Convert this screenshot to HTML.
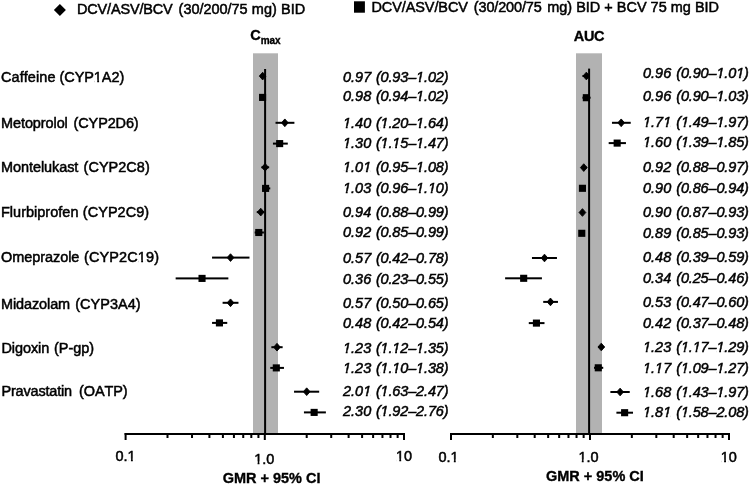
<!DOCTYPE html>
<html><head><meta charset="utf-8"><style>
html,body{margin:0;padding:0;background:#fff;}
svg{display:block;will-change:transform;}
text{font-kerning:none;font-family:"Liberation Sans",sans-serif;font-size:14.5px;fill:#000;stroke:#000;stroke-width:0.5px;}
text.i{font-style:italic;}
text.p{letter-spacing:-0.14px;}
text.b{font-weight:bold;stroke-width:0.35px;}
</style></head><body>
<svg width="750" height="485" viewBox="0 0 750 485">
<rect x="253" y="53.3" width="25" height="380.7" fill="#b2b2b2"/>
<rect x="576" y="53.3" width="26" height="380.7" fill="#b2b2b2"/>
<rect x="264.1" y="69" width="2" height="365" fill="#000"/>
<rect x="588.1" y="68.6" width="2" height="366" fill="#000"/>
<g fill="#000"><rect x="124.60" y="433" width="280.40" height="2"/><rect x="124.60" y="433" width="2" height="7"/><rect x="263.80" y="433" width="2" height="7"/><rect x="403.00" y="433" width="2" height="7"/><rect x="166.50" y="433" width="2" height="5"/><rect x="191.02" y="433" width="2" height="5"/><rect x="208.41" y="433" width="2" height="5"/><rect x="221.90" y="433" width="2" height="5"/><rect x="232.92" y="433" width="2" height="5"/><rect x="242.24" y="433" width="2" height="5"/><rect x="250.31" y="433" width="2" height="5"/><rect x="257.43" y="433" width="2" height="5"/><rect x="305.70" y="433" width="2" height="5"/><rect x="330.22" y="433" width="2" height="5"/><rect x="347.61" y="433" width="2" height="5"/><rect x="361.10" y="433" width="2" height="5"/><rect x="372.12" y="433" width="2" height="5"/><rect x="381.44" y="433" width="2" height="5"/><rect x="389.51" y="433" width="2" height="5"/><rect x="396.63" y="433" width="2" height="5"/><rect x="450.00" y="433" width="280.00" height="2"/><rect x="450.00" y="433" width="2" height="7"/><rect x="589.00" y="433" width="2" height="7"/><rect x="728.00" y="433" width="2" height="7"/><rect x="491.84" y="433" width="2" height="5"/><rect x="516.32" y="433" width="2" height="5"/><rect x="533.69" y="433" width="2" height="5"/><rect x="547.16" y="433" width="2" height="5"/><rect x="558.16" y="433" width="2" height="5"/><rect x="567.47" y="433" width="2" height="5"/><rect x="575.53" y="433" width="2" height="5"/><rect x="582.64" y="433" width="2" height="5"/><rect x="630.84" y="433" width="2" height="5"/><rect x="655.32" y="433" width="2" height="5"/><rect x="672.69" y="433" width="2" height="5"/><rect x="686.16" y="433" width="2" height="5"/><rect x="697.16" y="433" width="2" height="5"/><rect x="706.47" y="433" width="2" height="5"/><rect x="714.53" y="433" width="2" height="5"/><rect x="721.64" y="433" width="2" height="5"/></g>
<g fill="#000"><rect x="260.11" y="75.10" width="5.58" height="2"/><path d="M259.31 76.10L262.66 72.25L266.01 76.10L262.66 79.95Z" stroke="#000" stroke-width="0.9" stroke-linejoin="round"/><rect x="260.76" y="96.40" width="4.94" height="2"/><rect x="259.03" y="93.85" width="7.1" height="7.1"/><rect x="275.52" y="121.80" width="18.88" height="2"/><path d="M281.49 122.80L284.84 118.95L288.19 122.80L284.84 126.65Z" stroke="#000" stroke-width="0.9" stroke-linejoin="round"/><rect x="272.95" y="142.60" width="14.84" height="2"/><rect x="276.11" y="140.05" width="7.1" height="7.1"/><rect x="261.40" y="166.30" width="7.75" height="2"/><path d="M261.75 167.30L265.10 163.45L268.45 167.30L265.10 171.15Z" stroke="#000" stroke-width="0.9" stroke-linejoin="round"/><rect x="262.03" y="187.40" width="8.23" height="2"/><rect x="262.04" y="184.85" width="7.1" height="7.1"/><rect x="256.77" y="211.10" width="7.12" height="2"/><path d="M257.41 212.10L260.76 208.25L264.11 212.10L260.76 215.95Z" stroke="#000" stroke-width="0.9" stroke-linejoin="round"/><rect x="254.68" y="231.50" width="9.22" height="2"/><rect x="255.21" y="228.95" width="7.1" height="7.1"/><rect x="212.06" y="256.60" width="37.42" height="2"/><path d="M227.17 257.60L230.52 253.75L233.87 257.60L230.52 261.45Z" stroke="#000" stroke-width="0.9" stroke-linejoin="round"/><rect x="175.65" y="277.40" width="52.71" height="2"/><rect x="198.49" y="274.85" width="7.1" height="7.1"/><rect x="222.60" y="301.80" width="15.86" height="2"/><path d="M227.17 302.80L230.52 298.95L233.87 302.80L230.52 306.65Z" stroke="#000" stroke-width="0.9" stroke-linejoin="round"/><rect x="212.06" y="321.90" width="15.19" height="2"/><rect x="215.88" y="319.35" width="7.1" height="7.1"/><rect x="271.35" y="346.20" width="11.29" height="2"/><path d="M273.66 347.20L277.01 343.35L280.36 347.20L277.01 351.05Z" stroke="#000" stroke-width="0.9" stroke-linejoin="round"/><rect x="270.26" y="366.90" width="13.71" height="2"/><rect x="272.76" y="364.35" width="7.1" height="7.1"/><rect x="294.04" y="390.70" width="25.13" height="2"/><path d="M303.35 391.70L306.70 387.85L310.05 391.70L306.70 395.55Z" stroke="#000" stroke-width="0.9" stroke-linejoin="round"/><rect x="303.94" y="411.40" width="21.94" height="2"/><rect x="310.60" y="408.85" width="7.1" height="7.1"/><rect x="582.44" y="75.00" width="6.96" height="2"/><path d="M582.99 76.00L586.34 72.15L589.69 76.00L586.34 79.85Z" stroke="#000" stroke-width="0.9" stroke-linejoin="round"/><rect x="582.44" y="96.70" width="8.14" height="2"/><rect x="582.79" y="94.15" width="7.1" height="7.1"/><rect x="611.97" y="121.80" width="18.76" height="2"/><path d="M617.84 122.80L621.19 118.95L624.54 122.80L621.19 126.65Z" stroke="#000" stroke-width="0.9" stroke-linejoin="round"/><rect x="608.68" y="142.10" width="17.26" height="2"/><rect x="613.62" y="139.55" width="7.1" height="7.1"/><rect x="581.08" y="166.60" width="5.88" height="2"/><path d="M580.42 167.60L583.77 163.75L587.12 167.60L583.77 171.45Z" stroke="#000" stroke-width="0.9" stroke-linejoin="round"/><rect x="579.70" y="187.30" width="5.37" height="2"/><rect x="578.89" y="184.75" width="7.1" height="7.1"/><rect x="580.39" y="211.50" width="4.03" height="2"/><path d="M579.09 212.50L582.44 208.65L585.79 212.50L582.44 216.35Z" stroke="#000" stroke-width="0.9" stroke-linejoin="round"/><rect x="578.99" y="232.30" width="5.43" height="2"/><rect x="578.22" y="229.75" width="7.1" height="7.1"/><rect x="531.96" y="257.00" width="24.99" height="2"/><path d="M541.14 258.00L544.49 254.15L547.84 258.00L544.49 261.85Z" stroke="#000" stroke-width="0.9" stroke-linejoin="round"/><rect x="505.11" y="277.30" width="36.81" height="2"/><rect x="520.13" y="274.75" width="7.1" height="7.1"/><rect x="543.22" y="300.90" width="14.74" height="2"/><path d="M547.12 301.90L550.47 298.05L553.82 301.90L550.47 305.75Z" stroke="#000" stroke-width="0.9" stroke-linejoin="round"/><rect x="528.78" y="322.10" width="15.71" height="2"/><rect x="532.88" y="319.55" width="7.1" height="7.1"/><rect x="598.28" y="346.00" width="5.89" height="2"/><path d="M597.95 347.00L601.30 343.15L604.65 347.00L601.30 350.85Z" stroke="#000" stroke-width="0.9" stroke-linejoin="round"/><rect x="594.00" y="366.80" width="9.23" height="2"/><rect x="594.73" y="364.25" width="7.1" height="7.1"/><rect x="610.39" y="391.00" width="19.34" height="2"/><path d="M616.77 392.00L620.12 388.15L623.47 392.00L620.12 395.85Z" stroke="#000" stroke-width="0.9" stroke-linejoin="round"/><rect x="616.41" y="411.70" width="16.60" height="2"/><rect x="621.07" y="409.15" width="7.1" height="7.1"/></g>
<g><text class="n" x="1.00" y="81.9" letter-spacing="0.08" transform="matrix(1 0 0 1.045 0 -3.685)">Caffeine</text><text x="59.56" y="81.9" letter-spacing="-0.077" transform="matrix(1 0 0 1.045 0 -3.685)">(CYP1A2)</text><text class="n" x="1.00" y="127.9" letter-spacing="-0.087" transform="matrix(1 0 0 1.045 0 -5.755)">Metoprolol</text><text x="73.61" y="127.9" letter-spacing="-0.134" transform="matrix(1 0 0 1.045 0 -5.755)">(CYP2D6)</text><text class="n" x="1.00" y="172.1" letter-spacing="-0.07" transform="matrix(1 0 0 1.045 0 -7.744)">Montelukast</text><text x="83.58" y="172.1" letter-spacing="0.023" transform="matrix(1 0 0 1.045 0 -7.744)">(CYP2C8)</text><text class="n" x="1.00" y="217.3" letter-spacing="0.016" transform="matrix(1 0 0 1.045 0 -9.778)">Flurbiprofen</text><text x="82.84" y="217.3" letter-spacing="0.037" transform="matrix(1 0 0 1.045 0 -9.778)">(CYP2C9)</text><text class="n" x="1.00" y="262.1" letter-spacing="-0.053" transform="matrix(1 0 0 1.045 0 -11.794)">Omeprazole</text><text x="83.99" y="262.1" letter-spacing="0.118" transform="matrix(1 0 0 1.045 0 -11.794)">(CYP2C19)</text><text class="n" x="1.00" y="309.1" letter-spacing="-0.107" transform="matrix(1 0 0 1.045 0 -13.909)">Midazolam</text><text x="75.24" y="309.1" letter-spacing="0.023" transform="matrix(1 0 0 1.045 0 -13.909)">(CYP3A4)</text><text class="n" x="1.40" y="353.3" letter-spacing="-0.07" transform="matrix(1 0 0 1.045 0 -15.898)">Digoxin</text><text x="54.03" y="353.3" letter-spacing="-0.02" transform="matrix(1 0 0 1.045 0 -15.898)">(P-gp)</text><text class="n" x="1.50" y="396.4" letter-spacing="-0.18" transform="matrix(1 0 0 1.045 0 -17.838)">Pravastatin</text><text x="79.03" y="396.4" letter-spacing="-0.08" transform="matrix(1 0 0 1.045 0 -17.838)">(OATP)</text><text class="i" x="343.0" y="81.7" transform="matrix(1 0 0 1.045 0 -3.676)">0.97</text><text class="i p" x="375.9" y="81.7" transform="matrix(1 0 0 1.045 0 -3.676)">(0.93–1.02)</text><text class="i" x="343.0" y="101.5" transform="matrix(1 0 0 1.045 0 -4.567)">0.98</text><text class="i p" x="375.9" y="101.5" transform="matrix(1 0 0 1.045 0 -4.567)">(0.94–1.02)</text><text class="i" x="343.0" y="128.3" transform="matrix(1 0 0 1.045 0 -5.773)">1.40</text><text class="i p" x="375.9" y="128.3" transform="matrix(1 0 0 1.045 0 -5.773)">(1.20–1.64)</text><text class="i" x="343.0" y="148.4" transform="matrix(1 0 0 1.045 0 -6.678)">1.30</text><text class="i p" x="375.9" y="148.4" transform="matrix(1 0 0 1.045 0 -6.678)">(1.15–1.47)</text><text class="i" x="343.0" y="172.5" transform="matrix(1 0 0 1.045 0 -7.762)">1.01</text><text class="i p" x="375.9" y="172.5" transform="matrix(1 0 0 1.045 0 -7.762)">(0.95–1.08)</text><text class="i" x="343.0" y="193.4" transform="matrix(1 0 0 1.045 0 -8.703)">1.03</text><text class="i p" x="375.9" y="193.4" transform="matrix(1 0 0 1.045 0 -8.703)">(0.96–1.10)</text><text class="i" x="343.0" y="217.3" transform="matrix(1 0 0 1.045 0 -9.778)">0.94</text><text class="i p" x="375.9" y="217.3" transform="matrix(1 0 0 1.045 0 -9.778)">(0.88–0.99)</text><text class="i" x="343.0" y="237.5" transform="matrix(1 0 0 1.045 0 -10.687)">0.92</text><text class="i p" x="375.9" y="237.5" transform="matrix(1 0 0 1.045 0 -10.687)">(0.85–0.99)</text><text class="i" x="343.0" y="263.1" transform="matrix(1 0 0 1.045 0 -11.839)">0.57</text><text class="i p" x="375.9" y="263.1" transform="matrix(1 0 0 1.045 0 -11.839)">(0.42–0.78)</text><text class="i" x="343.0" y="283.8" transform="matrix(1 0 0 1.045 0 -12.771)">0.36</text><text class="i p" x="375.9" y="283.8" transform="matrix(1 0 0 1.045 0 -12.771)">(0.23–0.55)</text><text class="i" x="343.0" y="308.1" transform="matrix(1 0 0 1.045 0 -13.864)">0.57</text><text class="i p" x="375.9" y="308.1" transform="matrix(1 0 0 1.045 0 -13.864)">(0.50–0.65)</text><text class="i" x="343.0" y="328.4" transform="matrix(1 0 0 1.045 0 -14.778)">0.48</text><text class="i p" x="375.9" y="328.4" transform="matrix(1 0 0 1.045 0 -14.778)">(0.42–0.54)</text><text class="i" x="343.0" y="352.7" transform="matrix(1 0 0 1.045 0 -15.871)">1.23</text><text class="i p" x="375.9" y="352.7" transform="matrix(1 0 0 1.045 0 -15.871)">(1.12–1.35)</text><text class="i" x="343.0" y="372.9" transform="matrix(1 0 0 1.045 0 -16.780)">1.23</text><text class="i p" x="375.9" y="372.9" transform="matrix(1 0 0 1.045 0 -16.780)">(1.10–1.38)</text><text class="i" x="343.0" y="395.8" transform="matrix(1 0 0 1.045 0 -17.811)">2.01</text><text class="i p" x="375.9" y="395.8" transform="matrix(1 0 0 1.045 0 -17.811)">(1.63–2.47)</text><text class="i" x="343.0" y="416.3" transform="matrix(1 0 0 1.045 0 -18.733)">2.30</text><text class="i p" x="375.9" y="416.3" transform="matrix(1 0 0 1.045 0 -18.733)">(1.92–2.76)</text><text class="i" x="643.0" y="78.5" transform="matrix(1 0 0 1.045 0 -3.532)">0.96</text><text class="i p" x="676.2" y="78.5" transform="matrix(1 0 0 1.045 0 -3.532)">(0.90–1.01)</text><text class="i" x="643.0" y="101.5" transform="matrix(1 0 0 1.045 0 -4.567)">0.96</text><text class="i p" x="676.2" y="101.5" transform="matrix(1 0 0 1.045 0 -4.567)">(0.90–1.03)</text><text class="i" x="643.0" y="126.9" transform="matrix(1 0 0 1.045 0 -5.710)">1.71</text><text class="i p" x="676.2" y="126.9" transform="matrix(1 0 0 1.045 0 -5.710)">(1.49–1.97)</text><text class="i" x="643.0" y="147.5" transform="matrix(1 0 0 1.045 0 -6.637)">1.60</text><text class="i p" x="676.2" y="147.5" transform="matrix(1 0 0 1.045 0 -6.637)">(1.39–1.85)</text><text class="i" x="643.0" y="171.9" transform="matrix(1 0 0 1.045 0 -7.735)">0.92</text><text class="i p" x="676.2" y="171.9" transform="matrix(1 0 0 1.045 0 -7.735)">(0.88–0.97)</text><text class="i" x="643.0" y="192.8" transform="matrix(1 0 0 1.045 0 -8.676)">0.90</text><text class="i p" x="676.2" y="192.8" transform="matrix(1 0 0 1.045 0 -8.676)">(0.86–0.94)</text><text class="i" x="643.0" y="216.9" transform="matrix(1 0 0 1.045 0 -9.760)">0.90</text><text class="i p" x="676.2" y="216.9" transform="matrix(1 0 0 1.045 0 -9.760)">(0.87–0.93)</text><text class="i" x="643.0" y="237.8" transform="matrix(1 0 0 1.045 0 -10.701)">0.89</text><text class="i p" x="676.2" y="237.8" transform="matrix(1 0 0 1.045 0 -10.701)">(0.85–0.93)</text><text class="i" x="643.0" y="261.9" transform="matrix(1 0 0 1.045 0 -11.785)">0.48</text><text class="i p" x="676.2" y="261.9" transform="matrix(1 0 0 1.045 0 -11.785)">(0.39–0.59)</text><text class="i" x="643.0" y="282.8" transform="matrix(1 0 0 1.045 0 -12.726)">0.34</text><text class="i p" x="676.2" y="282.8" transform="matrix(1 0 0 1.045 0 -12.726)">(0.25–0.46)</text><text class="i" x="643.0" y="306.9" transform="matrix(1 0 0 1.045 0 -13.810)">0.53</text><text class="i p" x="676.2" y="306.9" transform="matrix(1 0 0 1.045 0 -13.810)">(0.47–0.60)</text><text class="i" x="643.0" y="327.8" transform="matrix(1 0 0 1.045 0 -14.751)">0.42</text><text class="i p" x="676.2" y="327.8" transform="matrix(1 0 0 1.045 0 -14.751)">(0.37–0.48)</text><text class="i" x="643.0" y="351.9" transform="matrix(1 0 0 1.045 0 -15.835)">1.23</text><text class="i p" x="676.2" y="351.9" transform="matrix(1 0 0 1.045 0 -15.835)">(1.17–1.29)</text><text class="i" x="643.0" y="372.8" transform="matrix(1 0 0 1.045 0 -16.776)">1.17</text><text class="i p" x="676.2" y="372.8" transform="matrix(1 0 0 1.045 0 -16.776)">(1.09–1.27)</text><text class="i" x="643.0" y="396.7" transform="matrix(1 0 0 1.045 0 -17.851)">1.68</text><text class="i p" x="676.2" y="396.7" transform="matrix(1 0 0 1.045 0 -17.851)">(1.43–1.97)</text><text class="i" x="643.0" y="416.7" transform="matrix(1 0 0 1.045 0 -18.751)">1.81</text><text class="i p" x="676.2" y="416.7" transform="matrix(1 0 0 1.045 0 -18.751)">(1.58–2.08)</text><text x="125.6" y="460.9" text-anchor="middle" transform="matrix(1 0 0 1.045 0 -20.740)">0.1</text><text x="264.3" y="463.7" text-anchor="middle" transform="matrix(1 0 0 1.045 0 -20.866)">1.0</text><text x="404" y="460.9" text-anchor="middle" transform="matrix(1 0 0 1.045 0 -20.740)">10</text><text x="448.5" y="461.7" text-anchor="middle" transform="matrix(1 0 0 1.045 0 -20.776)">0.1</text><text x="588.5" y="461.7" text-anchor="middle" transform="matrix(1 0 0 1.045 0 -20.776)">1.0</text><text x="728.8" y="461.7" text-anchor="middle" transform="matrix(1 0 0 1.045 0 -20.776)">10</text><text class="b" x="271.6" y="483.1" text-anchor="middle" transform="matrix(1 0 0 1.045 0 -21.739)">GMR + 95% CI</text><text class="b" x="594.9" y="481.5" text-anchor="middle" transform="matrix(1 0 0 1.045 0 -21.667)">GMR + 95% CI</text><text class="b" x="250.2" y="40.3" transform="matrix(1 0 0 1.045 0 -1.813)">C<tspan font-size="10" dy="3.3">max</tspan></text><text class="b" x="573.8" y="41.4" letter-spacing="-0.35" transform="matrix(1 0 0 1.045 0 -1.863)">AUC</text><text x="77" y="14.5" letter-spacing="-0.16" transform="matrix(1 0 0 1.045 0 -0.652)">DCV/ASV/BCV</text><text x="178.63" y="14.5" letter-spacing="-0.04" word-spacing="0.4" transform="matrix(1 0 0 1.045 0 -0.652)">(30/200/75 mg) BID</text><text x="371.4" y="12.4" letter-spacing="-0.08" transform="matrix(1 0 0 1.045 0 -0.558)">DCV/ASV/BCV</text><text x="473.83" y="12.4" letter-spacing="-0.144" transform="matrix(1 0 0 1.045 0 -0.558)">(30/200/75</text><text x="547.20" y="12.4" transform="matrix(1 0 0 1.045 0 -0.558)">mg) BID + BCV 75 mg BID</text></g>
<path fill="#000" d="M53.91 10.00L59.90 4.10L65.89 10.00L59.90 15.89Z" stroke="#000" stroke-width="0.01" stroke-linejoin="round"/>
<rect x="354" y="1.3" width="10.9" height="11.4" fill="#000"/>
<g fill="#fff"><polygon points="94.35,83.50 97.19,83.50 97.19,79.57 94.35,79.57"/><polygon points="99.07,83.50 101.90,83.50 101.90,79.57 99.07,79.57"/><polygon points="138.32,263.70 141.16,263.70 141.16,259.77 138.32,259.77"/><polygon points="143.04,263.70 145.87,263.70 145.87,259.77 143.04,259.77"/><polygon points="415.90,83.30 418.74,83.30 418.95,79.37 416.11,79.37"/><polygon points="420.63,83.30 423.45,83.30 423.66,79.37 420.84,79.37"/><polygon points="415.90,103.10 418.74,103.10 418.95,99.17 416.11,99.17"/><polygon points="420.63,103.10 423.45,103.10 423.66,99.17 420.84,99.17"/><polygon points="342.78,129.90 345.62,129.90 345.83,125.97 342.99,125.97"/><polygon points="347.50,129.90 350.33,129.90 350.54,125.97 347.71,125.97"/><polygon points="380.35,129.90 383.19,129.90 383.40,125.97 380.56,125.97"/><polygon points="385.08,129.90 387.90,129.90 388.11,125.97 385.29,125.97"/><polygon points="415.90,129.90 418.74,129.90 418.95,125.97 416.11,125.97"/><polygon points="420.63,129.90 423.45,129.90 423.66,125.97 420.84,125.97"/><polygon points="342.78,150.00 345.62,150.00 345.83,146.07 342.99,146.07"/><polygon points="347.50,150.00 350.33,150.00 350.54,146.07 347.71,146.07"/><polygon points="380.35,150.00 383.19,150.00 383.40,146.07 380.56,146.07"/><polygon points="385.08,150.00 387.90,150.00 388.11,146.07 385.29,146.07"/><polygon points="392.14,150.00 394.99,150.00 395.20,146.07 392.36,146.07"/><polygon points="396.87,150.00 399.70,150.00 399.91,146.07 397.08,146.07"/><polygon points="415.90,150.00 418.74,150.00 418.95,146.07 416.11,146.07"/><polygon points="420.63,150.00 423.45,150.00 423.66,146.07 420.84,146.07"/><polygon points="342.78,174.10 345.62,174.10 345.83,170.17 342.99,170.17"/><polygon points="347.50,174.10 350.33,174.10 350.54,170.17 347.71,170.17"/><polygon points="362.90,174.10 365.74,174.10 365.95,170.17 363.11,170.17"/><polygon points="367.62,174.10 370.45,174.10 370.66,170.17 367.83,170.17"/><polygon points="415.90,174.10 418.74,174.10 418.95,170.17 416.11,170.17"/><polygon points="420.63,174.10 423.45,174.10 423.66,170.17 420.84,170.17"/><polygon points="342.78,195.00 345.62,195.00 345.83,191.07 342.99,191.07"/><polygon points="347.50,195.00 350.33,195.00 350.54,191.07 347.71,191.07"/><polygon points="415.90,195.00 418.74,195.00 418.95,191.07 416.11,191.07"/><polygon points="420.63,195.00 423.45,195.00 423.66,191.07 420.84,191.07"/><polygon points="427.70,195.00 430.54,195.00 430.75,191.07 427.91,191.07"/><polygon points="432.42,195.00 435.25,195.00 435.46,191.07 432.63,191.07"/><polygon points="342.78,354.30 345.62,354.30 345.83,350.37 342.99,350.37"/><polygon points="347.50,354.30 350.33,354.30 350.54,350.37 347.71,350.37"/><polygon points="380.35,354.30 383.19,354.30 383.40,350.37 380.56,350.37"/><polygon points="385.08,354.30 387.90,354.30 388.11,350.37 385.29,350.37"/><polygon points="392.14,354.30 394.99,354.30 395.20,350.37 392.36,350.37"/><polygon points="396.87,354.30 399.70,354.30 399.91,350.37 397.08,350.37"/><polygon points="415.90,354.30 418.74,354.30 418.95,350.37 416.11,350.37"/><polygon points="420.63,354.30 423.45,354.30 423.66,350.37 420.84,350.37"/><polygon points="342.78,374.50 345.62,374.50 345.83,370.57 342.99,370.57"/><polygon points="347.50,374.50 350.33,374.50 350.54,370.57 347.71,370.57"/><polygon points="380.35,374.50 383.19,374.50 383.40,370.57 380.56,370.57"/><polygon points="385.08,374.50 387.90,374.50 388.11,370.57 385.29,370.57"/><polygon points="392.14,374.50 394.99,374.50 395.20,370.57 392.36,370.57"/><polygon points="396.87,374.50 399.70,374.50 399.91,370.57 397.08,370.57"/><polygon points="415.90,374.50 418.74,374.50 418.95,370.57 416.11,370.57"/><polygon points="420.63,374.50 423.45,374.50 423.66,370.57 420.84,370.57"/><polygon points="362.90,397.40 365.74,397.40 365.95,393.47 363.11,393.47"/><polygon points="367.62,397.40 370.45,397.40 370.66,393.47 367.83,393.47"/><polygon points="380.35,397.40 383.19,397.40 383.40,393.47 380.56,393.47"/><polygon points="385.08,397.40 387.90,397.40 388.11,393.47 385.29,393.47"/><polygon points="380.35,417.90 383.19,417.90 383.40,413.97 380.56,413.97"/><polygon points="385.08,417.90 387.90,417.90 388.11,413.97 385.29,413.97"/><polygon points="716.20,80.10 719.04,80.10 719.25,76.17 716.41,76.17"/><polygon points="720.93,80.10 723.75,80.10 723.96,76.17 721.14,76.17"/><polygon points="735.91,80.10 738.75,80.10 738.96,76.17 736.12,76.17"/><polygon points="740.63,80.10 743.46,80.10 743.67,76.17 740.84,76.17"/><polygon points="716.20,103.10 719.04,103.10 719.25,99.17 716.41,99.17"/><polygon points="720.93,103.10 723.75,103.10 723.96,99.17 721.14,99.17"/><polygon points="642.78,128.50 645.62,128.50 645.83,124.57 642.99,124.57"/><polygon points="647.50,128.50 650.33,128.50 650.54,124.57 647.71,124.57"/><polygon points="662.90,128.50 665.74,128.50 665.95,124.57 663.11,124.57"/><polygon points="667.62,128.50 670.45,128.50 670.66,124.57 667.83,124.57"/><polygon points="680.65,128.50 683.49,128.50 683.70,124.57 680.86,124.57"/><polygon points="685.38,128.50 688.20,128.50 688.41,124.57 685.59,124.57"/><polygon points="716.20,128.50 719.04,128.50 719.25,124.57 716.41,124.57"/><polygon points="720.93,128.50 723.75,128.50 723.96,124.57 721.14,124.57"/><polygon points="642.78,149.10 645.62,149.10 645.83,145.17 642.99,145.17"/><polygon points="647.50,149.10 650.33,149.10 650.54,145.17 647.71,145.17"/><polygon points="680.65,149.10 683.49,149.10 683.70,145.17 680.86,145.17"/><polygon points="685.38,149.10 688.20,149.10 688.41,145.17 685.59,145.17"/><polygon points="716.20,149.10 719.04,149.10 719.25,145.17 716.41,145.17"/><polygon points="720.93,149.10 723.75,149.10 723.96,145.17 721.14,145.17"/><polygon points="642.78,353.50 645.62,353.50 645.83,349.57 642.99,349.57"/><polygon points="647.50,353.50 650.33,353.50 650.54,349.57 647.71,349.57"/><polygon points="680.65,353.50 683.49,353.50 683.70,349.57 680.86,349.57"/><polygon points="685.38,353.50 688.20,353.50 688.41,349.57 685.59,349.57"/><polygon points="692.44,353.50 695.29,353.50 695.50,349.57 692.66,349.57"/><polygon points="697.17,353.50 700.00,353.50 700.21,349.57 697.38,349.57"/><polygon points="716.20,353.50 719.04,353.50 719.25,349.57 716.41,349.57"/><polygon points="720.93,353.50 723.75,353.50 723.96,349.57 721.14,349.57"/><polygon points="642.78,374.40 645.62,374.40 645.83,370.47 642.99,370.47"/><polygon points="647.50,374.40 650.33,374.40 650.54,370.47 647.71,370.47"/><polygon points="654.84,374.40 657.69,374.40 657.90,370.47 655.06,370.47"/><polygon points="659.57,374.40 662.40,374.40 662.61,370.47 659.78,370.47"/><polygon points="680.65,374.40 683.49,374.40 683.70,370.47 680.86,370.47"/><polygon points="685.38,374.40 688.20,374.40 688.41,370.47 685.59,370.47"/><polygon points="716.20,374.40 719.04,374.40 719.25,370.47 716.41,370.47"/><polygon points="720.93,374.40 723.75,374.40 723.96,370.47 721.14,370.47"/><polygon points="642.78,398.30 645.62,398.30 645.83,394.37 642.99,394.37"/><polygon points="647.50,398.30 650.33,398.30 650.54,394.37 647.71,394.37"/><polygon points="680.65,398.30 683.49,398.30 683.70,394.37 680.86,394.37"/><polygon points="685.38,398.30 688.20,398.30 688.41,394.37 685.59,394.37"/><polygon points="716.20,398.30 719.04,398.30 719.25,394.37 716.41,394.37"/><polygon points="720.93,398.30 723.75,398.30 723.96,394.37 721.14,394.37"/><polygon points="642.78,418.30 645.62,418.30 645.83,414.37 642.99,414.37"/><polygon points="647.50,418.30 650.33,418.30 650.54,414.37 647.71,414.37"/><polygon points="662.90,418.30 665.74,418.30 665.95,414.37 663.11,414.37"/><polygon points="667.62,418.30 670.45,418.30 670.66,414.37 667.83,414.37"/><polygon points="680.65,418.30 683.49,418.30 683.70,414.37 680.86,414.37"/><polygon points="685.38,418.30 688.20,418.30 688.41,414.37 685.59,414.37"/><polygon points="128.11,462.50 130.95,462.50 130.95,458.57 128.11,458.57"/><polygon points="132.83,462.50 135.66,462.50 135.66,458.57 132.83,458.57"/><polygon points="254.74,465.30 257.58,465.30 257.58,461.37 254.74,461.37"/><polygon points="259.46,465.30 262.29,465.30 262.29,461.37 259.46,461.37"/><polygon points="396.45,462.50 399.29,462.50 399.29,458.57 396.45,458.57"/><polygon points="401.17,462.50 404.00,462.50 404.00,458.57 401.17,458.57"/><polygon points="451.01,463.30 453.85,463.30 453.85,459.37 451.01,459.37"/><polygon points="455.73,463.30 458.56,463.30 458.56,459.37 455.73,459.37"/><polygon points="578.94,463.30 581.78,463.30 581.78,459.37 578.94,459.37"/><polygon points="583.66,463.30 586.49,463.30 586.49,459.37 583.66,459.37"/><polygon points="721.25,463.30 724.09,463.30 724.09,459.37 721.25,459.37"/><polygon points="725.97,463.30 728.80,463.30 728.80,459.37 725.97,459.37"/></g>
</svg>
</body></html>
